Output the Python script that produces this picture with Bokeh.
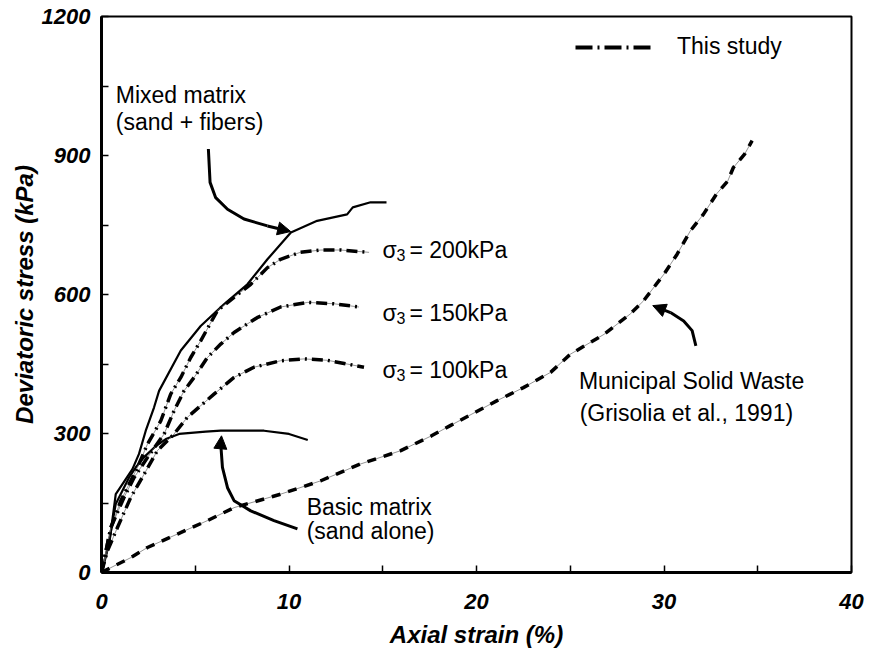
from bokeh.plotting import figure
from bokeh.models import FixedTicker, Arrow, NormalHead, Legend, LegendItem, Range1d
from bokeh.core.properties import value
from bokeh.embed import file_html
from bokeh.resources import INLINE

# ---- data: axial strain (%) vs deviatoric stress (kPa) ----
mixed_x = [0, 0.15, 0.41, 0.76, 0.94, 1.65, 2.0, 2.36, 2.8, 3.07, 4.23, 5.29, 6.53, 7.78, 8.85, 10.1, 11.5, 13.1, 13.4, 14.35, 15.2]
mixed_y = [0, 25, 61, 169, 180, 223, 256, 306, 356, 392, 479, 532, 579, 622, 676, 734, 759, 773, 788, 799, 799]

basic_x = [0, 0.2, 0.41, 0.76, 1.47, 1.83, 2.3, 2.9, 3.43, 4.14, 5.56, 6.36, 8.67, 10.0, 11.0]
basic_y = [0, 30, 68, 148, 205, 227, 250, 273, 288, 299, 304, 306, 306, 299, 286]

s200_x = [0, 0.5, 1.03, 1.92, 2.45, 3.16, 3.69, 4.23, 4.76, 5.29, 6.18, 7.07, 7.96, 8.85, 9.55, 10.6, 11.7, 12.75, 14.27]
s200_y = [0, 97, 155, 227, 277, 327, 385, 421, 464, 500, 565, 594, 622, 658, 676, 691, 696, 696, 691]

s150_x = [0, 0.5, 1.2, 1.74, 2.45, 3.34, 3.87, 4.4, 4.94, 5.65, 6.36, 7.07, 8.3, 9.55, 11.0, 12.4, 13.73]
s150_y = [0, 97, 162, 205, 248, 299, 349, 392, 421, 464, 493, 518, 550, 573, 583, 580, 573]

s100_x = [0, 0.32, 0.85, 1.56, 2.27, 2.98, 3.87, 4.58, 6.0, 7.07, 8.13, 9.55, 10.8, 12.05, 13.1, 14.0]
s100_y = [0, 47, 97, 162, 212, 263, 299, 335, 385, 421, 443, 457, 461, 458, 450, 443]

msw_x = [0, 0.67, 1.56, 2.45, 4.05, 5.65, 7.07, 9.55, 11.7, 13.8, 15.96, 17.6, 18.6, 21.1, 22.5, 23.95, 25.0,
         26.8, 28.2, 28.9, 30.0, 30.7, 31.4, 32.1, 32.8, 33.4, 33.7, 34.3, 34.7]
msw_y = [0, 14, 32, 54, 83, 112, 140, 169, 198, 234, 263, 295, 317, 371, 399, 432, 471,
         514, 558, 586, 644, 687, 737, 773, 817, 845, 874, 903, 932]

# curved pointer paths (last point is the arrow tip)
arrow_mixed_x = [5.7, 5.79, 6.09, 6.72, 7.6, 8.85, 10.09]
arrow_mixed_y = [914, 842, 809, 784, 763, 748, 736]
arrow_basic_x = [10.45, 9.2, 7.96, 7.07, 6.72, 6.45, 6.36, 6.4]
arrow_basic_y = [94, 112, 133, 155, 183, 227, 277, 295]
arrow_msw_x = [31.7, 31.5, 31.05, 30.35, 29.4]
arrow_msw_y = [489, 522, 543, 561, 576]

x_ticks = [0, 10, 20, 30, 40]
x_minor = [5, 15, 25, 35]
y_ticks = [0, 300, 600, 900, 1200]
y_minor = [150, 450, 750, 1050]

FONT = "Liberation Sans"
NAN = float("nan")

p = figure(width=870, height=660, output_backend="svg", toolbar_location=None,
           x_range=Range1d(0, 40), y_range=Range1d(0, 1200),
           min_border_left=101, min_border_right=19, min_border_top=16, min_border_bottom=88)
p.background_fill_color = "white"
p.border_fill_color = "white"
p.outline_line_color = "black"
p.outline_line_width = 2
p.xgrid.visible = False
p.ygrid.visible = False

for ax, ticks, minor in ((p.xaxis[0], x_ticks, x_minor), (p.yaxis[0], y_ticks, y_minor)):
    ax.ticker = FixedTicker(ticks=ticks, minor_ticks=minor)
    ax.axis_line_width = 3
    ax.axis_line_color = "black"
    ax.major_tick_in = 7
    ax.major_tick_out = 0
    ax.minor_tick_in = 7
    ax.minor_tick_out = 0
    ax.major_tick_line_width = 1.5
    ax.minor_tick_line_width = 1.5
    ax.major_label_text_font = FONT
    ax.major_label_text_font_size = "22px"
    ax.major_label_text_font_style = "bold italic"
    ax.major_label_text_color = "black"
    ax.axis_label_text_font = FONT
    ax.axis_label_text_font_size = "24px"
    ax.axis_label_text_font_style = "bold italic"
    ax.axis_label_text_color = "black"

p.xaxis.axis_label = "Axial strain (%)"
p.yaxis.axis_label = "Deviatoric stress (kPa)"
p.xaxis.major_label_standoff = 21
p.xaxis.axis_label_standoff = 9
p.yaxis.major_label_standoff = 11
p.yaxis.axis_label_standoff = 1

# solid curves: basic and mixed matrix
p.line(mixed_x, mixed_y, line_color="black", line_width=2.2)
p.line(basic_x, basic_y, line_color="black", line_width=2.2)

# dash-dot curves of this study (faint trace under a heavy dash-dot stroke)
for xs, ys in ((s200_x, s200_y), (s150_x, s150_y), (s100_x, s100_y)):
    p.line(xs, ys, line_color="#666666", line_width=0.7)
    p.line(xs, ys, line_color="black", line_width=3.5, line_dash="11 5 2 5")

# municipal solid waste (dashed)
p.line(msw_x, msw_y, line_color="#666666", line_width=0.7)
p.line(msw_x, msw_y, line_color="black", line_width=3.5, line_dash="9 8")

# curved pointers
for xs, ys in ((arrow_mixed_x, arrow_mixed_y), (arrow_basic_x, arrow_basic_y), (arrow_msw_x, arrow_msw_y)):
    p.line(xs[:-1], ys[:-1], line_color="black", line_width=3)
    p.add_layout(Arrow(end=NormalHead(size=13, fill_color="black", line_color="black", line_width=1),
                       x_start=xs[-2], y_start=ys[-2], x_end=xs[-1], y_end=ys[-1],
                       line_color="black", line_width=3))

# annotations
notes_x = [0.76, 0.76, 10.94, 10.94, 25.46, 25.5]
notes_y = [1030, 972, 142, 90, 414, 345]
notes_t = ["Mixed matrix", "(sand + fibers)", "Basic matrix", "(sand alone)",
           "Municipal Solid Waste", "(Grisolia et al., 1991)"]
p.text(x=notes_x, y=notes_y, text=notes_t, text_font=value(FONT), text_font_size="23px",
       text_baseline="middle", text_align="left", text_color="black")

sig_x = [14.98, 14.98, 14.98]
sig_y = [695, 559, 438]
sig_val = ["= 200kPa", "= 150kPa", "= 100kPa"]
p.text(x=sig_x, y=sig_y, text=["σ"] * 3, text_font=value(FONT), text_font_size="23px",
       text_baseline="middle", text_align="left", text_color="black")
p.text(x=sig_x, y=sig_y, text=["3"] * 3, text_font=value(FONT), text_font_size="16px",
       text_baseline="middle", text_align="left", text_color="black", x_offset=14, y_offset=5)
p.text(x=sig_x, y=sig_y, text=sig_val, text_font=value(FONT), text_font_size="23px",
       text_baseline="middle", text_align="left", text_color="black", x_offset=27)

# legend (sample stroke only, nothing plotted)
leg_r = p.line(x=[NAN, NAN], y=[NAN, NAN], line_color="black", line_width=4, line_dash="17 5 2 5")
legend = Legend(items=[LegendItem(label="This study", renderers=[leg_r])],
                location=(474, 512), glyph_width=77, glyph_height=20, label_standoff=25,
                padding=0, margin=0, border_line_alpha=0, background_fill_alpha=0,
                label_text_font=FONT, label_text_font_size="23px", label_text_color="black")
p.add_layout(legend)

open("out.html", "w").write(file_html(p, INLINE))
